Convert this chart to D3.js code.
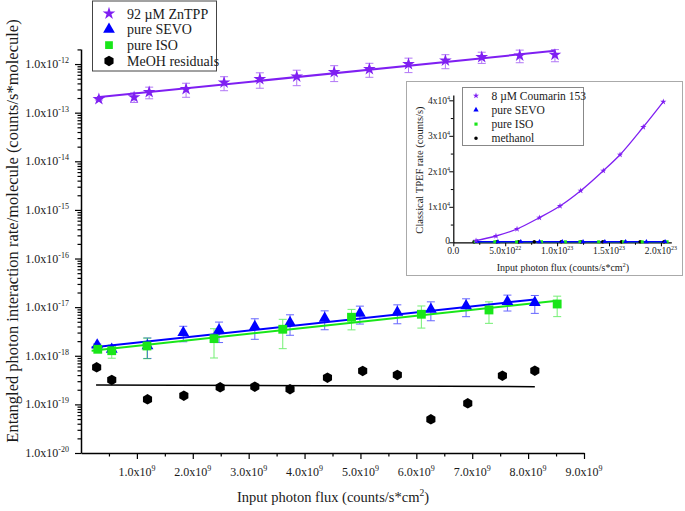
<!DOCTYPE html>
<html><head><meta charset="utf-8">
<script src="https://cdn.jsdelivr.net/npm/d3@7"></script>
<style>
body{margin:0;background:#fff}
svg{display:block}
text{font-family:"Liberation Serif","Times New Roman",serif;fill:#1a1a1a}
</style>
</head><body>
<svg id="c" width="685" height="511"></svg>
<script>
// ---------- main chart data ----------
const znX   = [0.32e9,0.95e9,1.22e9,1.88e9,2.56e9,3.20e9,3.86e9,4.53e9,5.16e9,5.86e9,6.52e9,7.17e9,7.85e9,8.48e9];
const znY   = [1.90e-13,2.08e-13,2.64e-13,3.05e-13,4.16e-13,4.89e-13,5.53e-13,6.81e-13,7.85e-13,9.95e-13,1.18e-12,1.39e-12,1.50e-12,1.55e-12];
const znErr = [0.08e-13,0.46e-13,0.71e-13,0.98e-13,1.33e-13,1.71e-13,1.94e-13,2.45e-13,2.51e-13,3.28e-13,3.78e-13,3.61e-13,4.35e-13,4.34e-13];

const sevoX   = [0.29e9,0.55e9,1.19e9,1.83e9,2.47e9,3.11e9,3.74e9,4.36e9,4.99e9,5.66e9,6.26e9,6.89e9,7.63e9,8.12e9];
const sevoY   = [1.67e-18,1.36e-18,1.60e-18,2.99e-18,3.40e-18,3.97e-18,4.80e-18,5.91e-18,7.49e-18,7.85e-18,9.05e-18,1.06e-17,1.30e-17,1.24e-17];
const sevoErr = [0.08e-18,0.27e-18,0.72e-18,1.05e-18,1.53e-18,1.79e-18,2.16e-18,2.48e-18,3.00e-18,3.30e-18,3.80e-18,4.24e-18,4.68e-18,4.96e-18];

const isoX   = [0.30e9,0.55e9,1.18e9,2.38e9,3.61e9,4.84e9,6.09e9,7.30e9,8.52e9];
const isoY   = [1.36e-18,1.27e-18,1.59e-18,2.25e-18,3.51e-18,6.20e-18,7.14e-18,8.75e-18,1.16e-17];
const isoErr = [0.07e-18,0.38e-18,0.72e-18,1.35e-18,2.11e-18,2.79e-18,3.43e-18,4.11e-18,5.22e-18];

const meohX = [0.28e9,0.55e9,1.19e9,1.84e9,2.49e9,3.11e9,3.74e9,4.41e9,5.04e9,5.66e9,6.26e9,6.92e9,7.54e9,8.12e9];
const meohY = [5.80e-19,3.18e-19,1.27e-19,1.51e-19,2.25e-19,2.31e-19,2.05e-19,3.54e-19,4.87e-19,4.03e-19,4.94e-20,1.05e-19,3.90e-19,4.94e-19];

// fitted lines (end points)
const znFitX   = [0.286e9, 8.48e9],  znFitY   = [2.07e-13, 1.87e-12];
const sevoFitX = [0.19e9, 8.12e9],   sevoFitY = [1.48e-18, 1.44e-17];
const isoFitX  = [0.19e9, 8.52e9],   isoFitY  = [1.27e-18, 1.36e-17];
const meohFitX = [0.27e9, 8.12e9],   meohFitY = [2.51e-19, 2.31e-19];

const xTickValues = [1e9,2e9,3e9,4e9,5e9,6e9,7e9,8e9,9e9];
const xTickLabels = [["1.0x10","9"],["2.0x10","9"],["3.0x10","9"],["4.0x10","9"],["5.0x10","9"],["6.0x10","9"],["7.0x10","9"],["8.0x10","9"],["9.0x10","9"]];
const yTickValues = [1e-20,1e-19,1e-18,1e-17,1e-16,1e-15,1e-14,1e-13,1e-12];
const yTickLabels = [["1.0x10","-20"],["1.0x10","-19"],["1.0x10","-18"],["1.0x10","-17"],["1.0x10","-16"],["1.0x10","-15"],["1.0x10","-14"],["1.0x10","-13"],["1.0x10","-12"]];
const legendLabels = ["92 \u00b5M ZnTPP","pure SEVO","pure ISO","MeOH residuals"];

// ---------- inset data ----------
const coumX = [2.19e22,4.11e22,6.14e22,8.29e22,10.28e22,12.27e22,14.45e22,16.06e22,18.30e22,20.23e22];
const coumY = [450,1775,3750,6930,10225,14535,20170,24680,32480,39600];
const inSevoX = [2.3e22,4.3e22,6.5e22,8.3e22,10.5e22,12.5e22,14.6e22,16.6e22,18.6e22,20.4e22];
const inSevoY = [160,150,170,140,160,150,170,160,150,160];
const inIsoX  = [2.1e22,4.0e22,6.1e22,8.5e22,10.8e22,12.2e22,14.0e22,16.4e22,18.2e22,20.6e22];
const inIsoY  = [140,150,130,150,140,160,140,150,140,150];
const inMeX   = [2.0e22,4.2e22,6.3e22,7.8e22,10.4e22,12.3e22,14.4e22,16.2e22,18.0e22,20.3e22];
const inMeY   = [120,130,120,140,130,120,130,120,130,120];
const inXTickValues = [0,5e22,1e23,1.5e23,2e23];
const inXTickLabels = [["0.0",""],["5.0x10","22"],["1.0x10","23"],["1.5x10","23"],["2.0x10","23"]];
const inYTickValues = [0,1e4,2e4,3e4,4e4];
const inYTickLabels = [["0",""],["1x10","4"],["2x10","4"],["3x10","4"],["4x10","4"]];
const inLegendLabels = ["8 \u00b5M Coumarin 153","pure SEVO","pure ISO","methanol"];

// ---------- styles ----------
const C_PURPLE = "#7f1ff2", C_BLUE = "#0000ff", C_GREEN = "#19e619", C_BLACK = "#000";

const svg = d3.select("#c");

function supLabel(sel, x, y, parts, size, supSize, anchor, rise) {
  const t = sel.append("text").attr("x", x).attr("y", y)
    .attr("font-size", size).attr("text-anchor", anchor || "middle");
  t.append("tspan").text(parts[0]);
  if (parts[1]) t.append("tspan").attr("dy", -(rise || size*0.42)).attr("font-size", supSize).text(parts[1]);
  return t;
}

const hexagon = { draw(ctx, size) {
  const r = Math.sqrt(2*size/(3*Math.sqrt(3)));
  for (let i = 0; i < 6; i++) {
    const a = Math.PI/3*i - Math.PI/2;
    const px = r*Math.cos(a), py = r*Math.sin(a);
    if (i === 0) ctx.moveTo(px, py); else ctx.lineTo(px, py);
  }
  ctx.closePath();
}};

// ---------- main scales ----------
const x = d3.scaleLinear().domain([0, 9e9]).range([81, 584]);
const y = d3.scaleLog().domain([1e-20, 2.04e-12]).range([453, 49]);

// axes
const gx = svg.append("g").attr("transform", `translate(0,${y.range()[0]})`);
gx.call(d3.axisBottom(x).tickValues(xTickValues).tickSize(6).tickSizeOuter(0).tickFormat(""));
const minorX = d3.range(1, 18, 2).map(i => i*0.5e9);
svg.append("g").attr("transform", `translate(0,${y.range()[0]})`)
  .call(d3.axisBottom(x).tickValues(minorX).tickSize(3.5).tickSizeOuter(0).tickFormat(""))
  .select(".domain").remove();

const gy = svg.append("g").attr("transform", `translate(${x.range()[0]},0)`);
gy.call(d3.axisLeft(y).tickValues(yTickValues).tickSize(6).tickSizeOuter(0).tickFormat(""));
const minorY = [];
for (let e = -20; e <= -12; e++) for (let m = 2; m <= 9; m++) { const v = m*Math.pow(10, e); if (v <= 2.04e-12) minorY.push(v); }
svg.append("g").attr("transform", `translate(${x.range()[0]},0)`)
  .call(d3.axisLeft(y).tickValues(minorY).tickSize(3.5).tickSizeOuter(0).tickFormat(""))
  .select(".domain").remove();
svg.selectAll("g path.domain").attr("stroke", "#000").attr("stroke-width", 1.5);
svg.selectAll("g .tick line").attr("stroke", "#000").attr("stroke-width", 1.2);

xTickValues.forEach((v, i) => supLabel(svg, x(v), 476, xTickLabels[i], 12, 8, "middle", 5));
yTickValues.forEach((v, i) => supLabel(svg, 69, y(v) + 4, yTickLabels[i], 12, 8, "end", 5));

// axis titles
const xt = svg.append("text").attr("x", 333).attr("y", 502).attr("font-size", 14.5).attr("text-anchor", "middle");
xt.append("tspan").text("Input photon flux (counts/s*cm");
xt.append("tspan").attr("dy", -6).attr("font-size", 9.5).text("2");
xt.append("tspan").attr("dy", 6).text(")");
svg.append("text").attr("transform", "translate(18,231) rotate(-90)").attr("font-size", 16.5)
  .attr("text-anchor", "middle").text("Entangled photon interaction rate/molecule (counts/s*molecule)");

// error bars
function errBars(xs, ys, es, color) {
  const g = svg.append("g").attr("stroke", color).attr("stroke-width", 1).attr("opacity", 0.6).attr("fill", "none");
  xs.forEach((xv, i) => {
    const top = y(ys[i] + es[i]), bot = y(Math.max(ys[i] - es[i], 1e-21)), cx = x(xv);
    g.append("line").attr("x1", cx).attr("x2", cx).attr("y1", top).attr("y2", bot);
    g.append("line").attr("x1", cx-4).attr("x2", cx+4).attr("y1", top).attr("y2", top);
    g.append("line").attr("x1", cx-4).attr("x2", cx+4).attr("y1", bot).attr("y2", bot);
  });
}
errBars(znX, znY, znErr, C_PURPLE);
errBars(sevoX, sevoY, sevoErr, C_BLUE);
errBars(isoX, isoY, isoErr, C_GREEN);

// fit lines
const line = d3.line().x(d => x(d[0])).y(d => y(d[1]));
function fit(xs, ys, color, w) {
  svg.append("path").datum(d3.zip(xs, ys)).attr("d", line).attr("fill", "none").attr("stroke", color).attr("stroke-width", w);
}
fit(znFitX, znFitY, C_PURPLE, 2);
fit(isoFitX, isoFitY, C_GREEN, 2);
fit(sevoFitX, sevoFitY, C_BLUE, 2);
fit(meohFitX, meohFitY, C_BLACK, 1.5);

// markers
function markers(xs, ys, type, size, color) {
  svg.append("g").selectAll("path").data(d3.zip(xs, ys)).join("path")
    .attr("transform", d => `translate(${x(d[0])},${y(d[1])})`)
    .attr("d", d3.symbol().type(type).size(size)).attr("fill", color);
}
markers(znX, znY, d3.symbolStar, 50, C_PURPLE);
markers(sevoX, sevoY, d3.symbolTriangle, 60, C_BLUE);
markers(isoX, isoY, d3.symbolSquare, 78, C_GREEN);
markers(meohX, meohY, hexagon, 72, C_BLACK);

// main legend
svg.append("rect").attr("x", 92.5).attr("y", 1).attr("width", 124).attr("height", 70)
  .attr("fill", "#fff").attr("stroke", "#444").attr("stroke-width", 1);
const legTypes = [[d3.symbolStar, 50, C_PURPLE], [d3.symbolTriangle, 60, C_BLUE], [d3.symbolSquare, 60, C_GREEN], [hexagon, 72, C_BLACK]];
legendLabels.forEach((lab, i) => {
  const ry = 13.5 + i*15.8;
  svg.append("path").attr("transform", `translate(109,${ry})`)
    .attr("d", d3.symbol().type(legTypes[i][0]).size(legTypes[i][1])).attr("fill", legTypes[i][2]);
  svg.append("text").attr("x", 127).attr("y", ry + 5).attr("font-size", 14).text(lab);
});

// ---------- inset ----------
svg.append("rect").attr("x", 406.5).attr("y", 81.5).attr("width", 276).attr("height", 194)
  .attr("fill", "#fff").attr("stroke", "#aaa").attr("stroke-width", 1);
const ix = d3.scaleLinear().domain([0, 2.1e23]).range([453.3, 671.3]);
const iy = d3.scaleLinear().domain([0, 4.15e4]).range([242.3, 95]);

const igx = svg.append("g").attr("transform", `translate(0,${iy.range()[0]})`);
igx.call(d3.axisBottom(ix).tickValues(inXTickValues).tickSize(4).tickSizeOuter(0).tickFormat(""));
svg.append("g").attr("transform", `translate(0,${iy.range()[0]})`)
  .call(d3.axisBottom(ix).tickValues([2.5e22,7.5e22,1.25e23,1.75e23]).tickSize(2.5).tickSizeOuter(0).tickFormat(""))
  .select(".domain").remove();
const igy = svg.append("g").attr("transform", `translate(${ix.range()[0]},0)`);
igy.call(d3.axisLeft(iy).tickValues(inYTickValues).tickSize(4).tickSizeOuter(0).tickFormat(""));
svg.append("g").attr("transform", `translate(${ix.range()[0]},0)`)
  .call(d3.axisLeft(iy).tickValues([5e3,1.5e4,2.5e4,3.5e4]).tickSize(2.5).tickSizeOuter(0).tickFormat(""))
  .select(".domain").remove();
[igx, igy].forEach(g => g.selectAll("path.domain").attr("stroke", "#000").attr("stroke-width", 1.2));
inXTickValues.forEach((v, i) => supLabel(svg, ix(v), 254, inXTickLabels[i], 9.5, 6, "middle", 4));
inYTickValues.forEach((v, i) => supLabel(svg, 450, iy(v) + 3.5 - (i === 0 ? 2 : 0), inYTickLabels[i], 9.5, 6, "end", 4));

const it = svg.append("text").attr("x", 563).attr("y", 271).attr("font-size", 10).attr("text-anchor", "middle");
it.append("tspan").text("Input photon flux (counts/s*cm");
it.append("tspan").attr("dy", -4).attr("font-size", 6.5).text("2");
it.append("tspan").attr("dy", 4).text(")");
svg.append("text").attr("transform", "translate(423,170) rotate(-90)").attr("font-size", 10.5)
  .attr("text-anchor", "middle").text("Classical TPEF rate (counts/s)");

const iline = d3.line().x(d => ix(d[0])).y(d => iy(d[1]));
function ifit(xs, ys, color, curve) {
  svg.append("path").datum(d3.zip(xs, ys)).attr("d", iline.curve(curve)).attr("fill", "none")
    .attr("stroke", color).attr("stroke-width", 1.3);
}
ifit([inMeX[0], inMeX[9]], [inMeY[0], inMeY[9]], C_BLACK, d3.curveLinear);
ifit([inIsoX[0], inIsoX[9]], [inIsoY[0], inIsoY[9]], C_GREEN, d3.curveLinear);
ifit([inSevoX[0], inSevoX[9]], [inSevoY[0], inSevoY[9]], C_BLUE, d3.curveLinear);
ifit(coumX, coumY, C_PURPLE, d3.curveMonotoneX);

function imarkers(xs, ys, type, size, color) {
  svg.append("g").selectAll("path").data(d3.zip(xs, ys)).join("path")
    .attr("transform", d => `translate(${ix(d[0])},${iy(d[1])})`)
    .attr("d", d3.symbol().type(type).size(size)).attr("fill", color);
}
imarkers(inMeX, inMeY, d3.symbolCircle, 10, C_BLACK);
imarkers(inIsoX, inIsoY, d3.symbolSquare, 9, C_GREEN);
imarkers(inSevoX, inSevoY, d3.symbolTriangle, 10, C_BLUE);
imarkers(coumX, coumY, d3.symbolStar, 12, C_PURPLE);

svg.append("rect").attr("x", 462.5).attr("y", 87.5).attr("width", 121).attr("height", 58)
  .attr("fill", "#fff").attr("stroke", "#888").attr("stroke-width", 1);
const inLegTypes = [[d3.symbolStar, 12, C_PURPLE], [d3.symbolTriangle, 12, C_BLUE], [d3.symbolSquare, 10, C_GREEN], [d3.symbolCircle, 10, C_BLACK]];
inLegendLabels.forEach((lab, i) => {
  const ry = 95.7 + i*14.2;
  svg.append("path").attr("transform", `translate(476,${ry})`)
    .attr("d", d3.symbol().type(inLegTypes[i][0]).size(inLegTypes[i][1])).attr("fill", inLegTypes[i][2]);
  svg.append("text").attr("x", 491.5).attr("y", ry + 4).attr("font-size", 11.5).text(lab);
});
</script>
</body></html>
